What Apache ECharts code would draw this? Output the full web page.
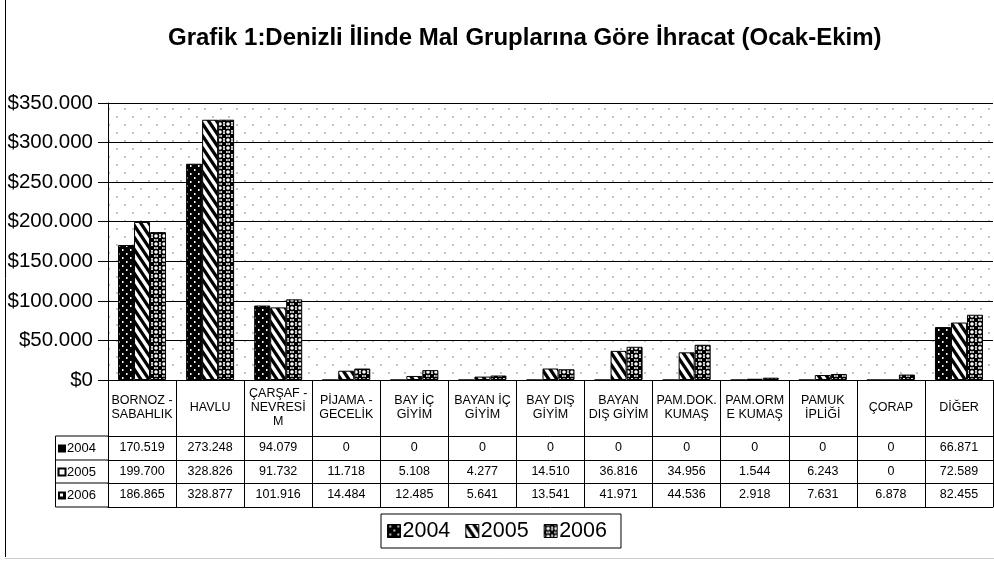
<!DOCTYPE html>
<html><head><meta charset="utf-8">
<script src="https://cdn.jsdelivr.net/npm/echarts@6/dist/echarts.min.js"></script>
<style>html,body{margin:0;padding:0;background:#fff}#c{width:994px;height:563px}</style>
</head><body><div id="c"></div>
<script>
const titleText = 'Grafik 1:Denizli İlinde Mal Gruplarına Göre İhracat (Ocak-Ekim)';
const categories = ['BORNOZ -\nSABAHLIK', 'HAVLU', 'ÇARŞAF -\nNEVRESİ\nM', 'PİJAMA -\nGECELİK', 'BAY İÇ\nGİYİM', 'BAYAN İÇ\nGİYİM', 'BAY DIŞ\nGİYİM', 'BAYAN\nDIŞ GİYİM', 'PAM.DOK.\nKUMAŞ', 'PAM.ORM\nE KUMAŞ', 'PAMUK\nİPLİĞİ', 'ÇORAP', 'DİĞER'];
const years = ['2004', '2005', '2006'];
const v2004 = [170519, 273248, 94079, 0, 0, 0, 0, 0, 0, 0, 0, 0, 66871];
const v2005 = [199700, 328826, 91732, 11718, 5108, 4277, 14510, 36816, 34956, 1544, 6243, 0, 72589];
const v2006 = [186865, 328877, 101916, 14484, 12485, 5641, 13541, 41971, 44536, 2918, 7631, 6878, 82455];
const yMin = 0, yMax = 350000, yStep = 50000;

const FONT = "'Liberation Sans', Arial, sans-serif";
function fmt(n) { return String(n).replace(/\B(?=(\d{3})+(?!\d))/g, '.'); }
function mk(w, h, draw) { const c = document.createElement('canvas'); c.width = w; c.height = h; const x = c.getContext('2d'); draw(x, w, h); return c; }

const bgPat = mk(16, 16, (x) => { x.fillStyle = '#fff'; x.fillRect(0, 0, 16, 16); x.fillStyle = '#c4c4c4'; x.fillRect(4, 4, 2, 2); x.fillRect(12, 12, 2, 2); });
const p2004 = mk(8, 8, (x) => { x.fillStyle = '#000'; x.fillRect(0, 0, 8, 8); x.fillStyle = '#fff'; x.fillRect(2, 1, 1.5, 2); x.fillRect(6, 5, 1.5, 2); });
const p2005 = mk(8, 12, (x) => {
  x.fillStyle = '#fff'; x.fillRect(0, 0, 8, 12);
  x.strokeStyle = '#000'; x.lineWidth = 3.2;
  for (const k of [-8, 0, 8]) { x.beginPath(); x.moveTo(k - 8 / 6, -2); x.lineTo(k + 8 + 8 / 6, 14); x.stroke(); }
});
const p2006 = mk(8, 8, (x) => {
  x.fillStyle = '#fff'; x.fillRect(0, 0, 8, 8);
  x.fillStyle = '#000';
  x.fillRect(0, 0, 2, 2); x.fillRect(6, 0, 2, 2); x.fillRect(0, 6, 2, 2); x.fillRect(6, 6, 2, 2);
  x.strokeStyle = '#000'; x.lineWidth = 1.6; x.beginPath(); x.arc(4, 4, 2.6, 0, Math.PI * 2); x.stroke();
});
const pats = [p2004, p2005, p2006];
const vals = [v2004, v2005, v2006];

const G = { left: 108, right: 1, top: 103, bottom: 183 };
const rowOff = [56, 80, 103, 127];

const chart = echarts.init(document.getElementById('c'));
const xAxes = [{
  type: 'category', data: categories, gridIndex: 0, position: 'bottom',
  axisLine: { show: true, lineStyle: { color: '#000', width: 1 } },
  axisTick: { show: true, interval: 0, length: rowOff[3], lineStyle: { color: '#000', width: 1 } },
  axisLabel: { interval: 0, margin: 28, verticalAlign: 'middle', lineHeight: 14, fontSize: 12.5, fontFamily: FONT, color: '#000', align: 'center' },
  splitLine: { show: false }
}];
for (let r = 0; r < 4; r++) {
  xAxes.push({
    type: 'category', data: categories, gridIndex: 0, position: 'bottom', offset: rowOff[r],
    axisLine: { show: true, lineStyle: { color: '#000', width: 1 } },
    axisTick: { show: false },
    axisLabel: r < 3 ? {
      show: true, interval: 0, margin: 11.5, verticalAlign: 'middle', fontSize: 12.5, fontFamily: FONT, color: '#000',
      formatter: ((rr) => (v, i) => fmt(vals[rr][i]))(r)
    } : { show: false },
    splitLine: { show: false }
  });
}

const series = years.map((y, k) => ({
  name: y, type: 'bar', xAxisIndex: 0, yAxisIndex: 0, data: vals[k],
  barWidth: 16, barGap: '0%',
  itemStyle: { color: { image: pats[k], repeat: 'repeat' }, borderColor: '#000', borderWidth: 1 },
  emphasis: { disabled: true }, animation: false
}));

chart.setOption({
  animation: false,
  title: { text: titleText, left: 163, top: 21, textStyle: { fontFamily: FONT, fontWeight: 'bold', fontSize: 24, color: '#000' } },
  grid: { left: G.left, right: G.right, top: G.top, bottom: G.bottom, show: true, borderWidth: 0, backgroundColor: { image: bgPat, repeat: 'repeat' } },
  legend: {
    data: years, left: 381, top: 514, orient: 'horizontal',
    padding: [6, 14, 6, 6], itemGap: 15, itemWidth: 13, itemHeight: 13, icon: 'rect',
    borderColor: '#000', borderWidth: 1, backgroundColor: '#fff',
    itemStyle: { borderColor: '#000', borderWidth: 1 },
    textStyle: { fontFamily: FONT, fontSize: 21.5, color: '#000', lineHeight: 20, padding: [0, 0, 0, -3] },
    selectedMode: false
  },
  xAxis: xAxes,
  yAxis: {
    type: 'value', min: yMin, max: yMax, interval: yStep,
    axisLine: { show: true, lineStyle: { color: '#000' } },
    axisTick: { show: true, length: 10, lineStyle: { color: '#000' } },
    axisLabel: { margin: 15, fontSize: 20.5, fontFamily: FONT, color: '#000', formatter: (v) => '$' + fmt(v) },
    splitLine: { show: true, lineStyle: { color: '#000', width: 1 } }
  },
  series: series
});

// key column of the data table + outer frame
const H = 563, gridBottomY = H - G.bottom;
const keyL = 55.5, keyR = G.left;
const gfx = [];
const ys = rowOff.map(o => gridBottomY + o);
gfx.push({ type: 'line', shape: { x1: keyL, y1: ys[0], x2: keyL, y2: ys[3] }, style: { stroke: '#000', lineWidth: 1 } });
for (const y of ys) gfx.push({ type: 'line', shape: { x1: keyL, y1: y, x2: keyR, y2: y }, style: { stroke: '#000', lineWidth: 1 } });
for (let r = 0; r < 3; r++) {
  const cy = (ys[r] + ys[r + 1]) / 2 + 0.5;
  if (r === 0) gfx.push({ type: 'rect', shape: { x: 58, y: cy - 4, width: 8, height: 8 }, style: { fill: '#000' } });
  if (r === 1) gfx.push({ type: 'rect', shape: { x: 58.5, y: cy - 3.5, width: 7, height: 7 }, style: { fill: '#fff', stroke: '#000', lineWidth: 2 } });
  if (r === 2) {
    gfx.push({ type: 'rect', shape: { x: 58, y: cy - 4, width: 8, height: 8 }, style: { fill: '#000' } });
    gfx.push({ type: 'rect', shape: { x: 60, y: cy - 2, width: 3, height: 3 }, style: { fill: '#fff' } });
  }
  gfx.push({ type: 'text', x: 67, y: cy, style: { text: years[r], fontSize: 13, fontFamily: FONT, fill: '#000', verticalAlign: 'middle', textVerticalAlign: 'middle' } });
}
gfx.push({ type: 'line', shape: { x1: 5.5, y1: 0, x2: 5.5, y2: 557 }, style: { stroke: '#000', lineWidth: 1 } });
gfx.push({ type: 'line', shape: { x1: 5, y1: 558.5, x2: 994, y2: 558.5 }, style: { stroke: '#ccc', lineWidth: 1 } });
chart.setOption({ graphic: gfx.map(g => Object.assign({ silent: true, z: 100 }, g)) });
</script></body></html>
